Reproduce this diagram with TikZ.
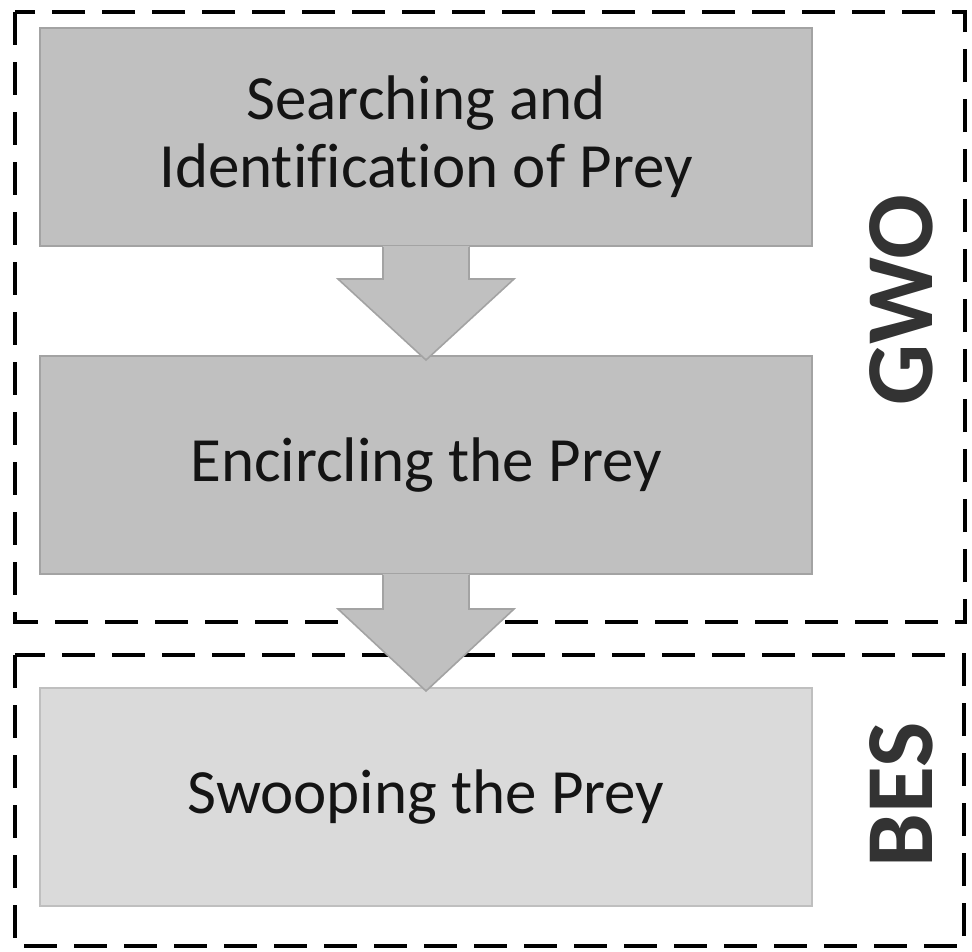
\documentclass[tikz,border=0pt]{standalone}
\usepackage{fontspec}
\setmainfont[Ligatures=NoCommon]{Carlito}
\usetikzlibrary{calc}
\definecolor{boxfill}{HTML}{C0C0C0}
\definecolor{boxline}{HTML}{A3A3A3}
\definecolor{lightfill}{HTML}{DADADA}
\definecolor{lightline}{HTML}{BFBFBF}
\definecolor{txt}{HTML}{141414}
\definecolor{lbl}{HTML}{333333}
\tikzset{
  stepbox/.style={draw=boxline, fill=boxfill, line width=2pt, minimum width=772pt, minimum height=218pt, inner sep=0pt, align=center, text=txt, font=\fontsize{63}{68}\selectfont},
  lightbox/.style={stepbox, draw=lightline, fill=lightfill},
  group/.style={draw=black, line width=4pt, dash pattern=on 33pt off 17pt},
  grouplabel/.style={rotate=90, text=lbl, font=\fontsize{96}{100}\selectfont\bfseries, inner sep=0pt},
  blockfill/.style={fill=boxfill},
  blockline/.style={draw=boxline, line width=1.6pt, line join=miter},
}
\begin{document}
\begin{tikzpicture}[x=1pt,y=-1pt]
\useasboundingbox (0,0) rectangle (972,951);
% group frames
\draw[group] (15,12) rectangle (965,622);
\draw[group] (15,655) rectangle (964,946);
% boxes
\node[stepbox] (b1) at (426,137) {Searching and\\Identification of Prey};
\node[stepbox] (b2) at (426,465) {Encircling the Prey};
\node[lightbox] (b3) at (426,797) {Swooping the Prey};
% block arrows
\coordinate (a1s) at (b1.south);
\coordinate (a1t) at ($(b2.north)+(0,5)$);
\fill[blockfill] ($(a1s)+(-43,-1)$) -- ($(a1s)+(-43,32)$) -- ($(a1s)+(-88,32)$) -- (a1t) -- ($(a1s)+(88,32)$) -- ($(a1s)+(43,32)$) -- ($(a1s)+(43,-1)$) -- cycle;
\draw[blockline] ($(a1s)+(-43,0)$) -- ($(a1s)+(-43,32)$) -- ($(a1s)+(-88,32)$) -- (a1t) -- ($(a1s)+(88,32)$) -- ($(a1s)+(43,32)$) -- ($(a1s)+(43,0)$);
\coordinate (a2s) at (b2.south);
\coordinate (a2t) at ($(b3.north)+(0,4)$);
\fill[blockfill] ($(a2s)+(-43,-1)$) -- ($(a2s)+(-43,34)$) -- ($(a2s)+(-88,34)$) -- (a2t) -- ($(a2s)+(88,34)$) -- ($(a2s)+(43,34)$) -- ($(a2s)+(43,-1)$) -- cycle;
\draw[blockline] ($(a2s)+(-43,0)$) -- ($(a2s)+(-43,34)$) -- ($(a2s)+(-88,34)$) -- (a2t) -- ($(a2s)+(88,34)$) -- ($(a2s)+(43,34)$) -- ($(a2s)+(43,0)$);
% labels
\node[grouplabel] (gwo) at (901,300) {GWO};
\node[grouplabel] (bes) at (901,795) {BES};
\end{tikzpicture}
\end{document}
